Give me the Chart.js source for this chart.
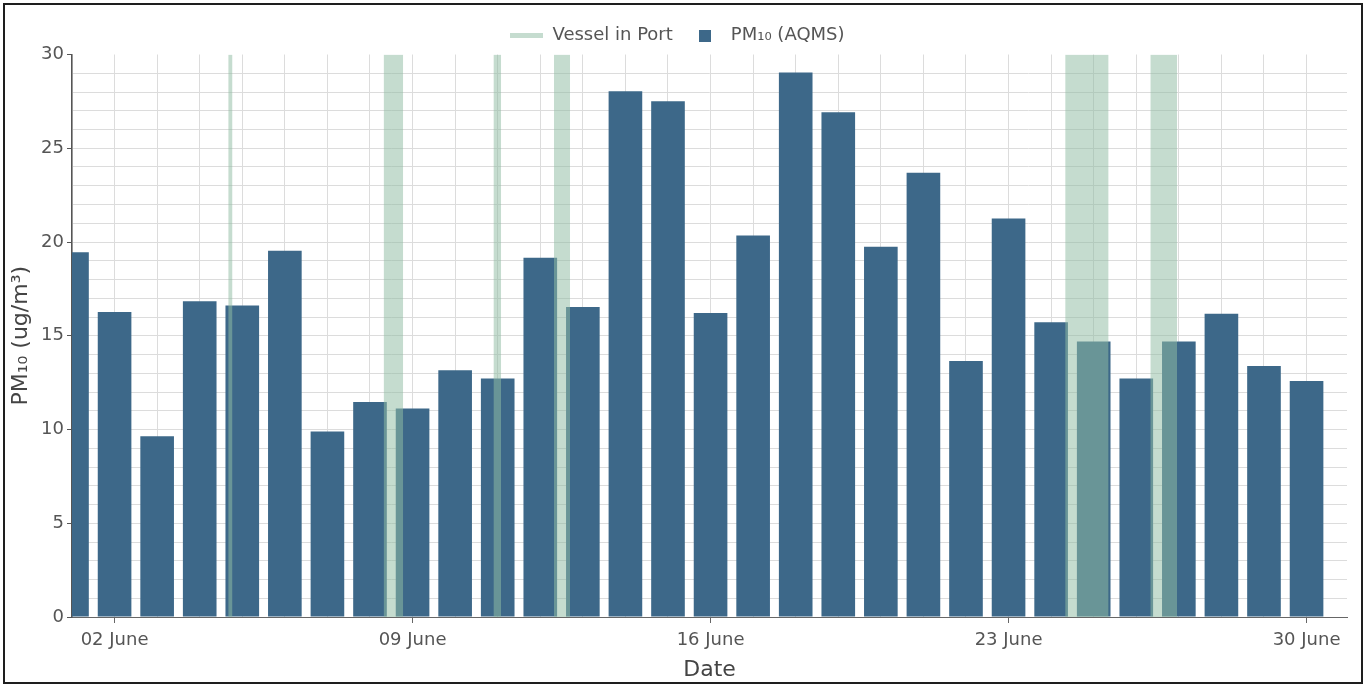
<!DOCTYPE html>
<html>
<head>
<meta charset="utf-8">
<script src="https://cdn.jsdelivr.net/npm/chart.js@4.4.1/dist/chart.umd.min.js"></script>
<style>
html,body{margin:0;padding:0;background:#fff;}
#box{position:absolute;left:3px;top:3px;width:1360px;height:681px;border:2px solid #1e1e1e;box-sizing:border-box;background:#fff;}
#box canvas{display:block;}
</style>
</head>
<body>
<div id="box"><canvas id="chart" width="1356" height="677"></canvas></div>
<script>
// day of June for each bar
let days=[1,2,3,4,5,6,7,8,9,10,11,12,13,14,15,16,17,18,19,20,21,22,23,24,25,26,27,28,29,30]
let pm10=[19.46,16.27,9.64,16.84,16.62,19.53,9.89,11.47,11.12,13.16,12.72,19.16,16.53,28.04,27.51,16.21,20.35,29.04,26.92,19.75,23.69,13.66,21.26,15.72,14.70,12.72,14.70,16.18,13.39,12.59]

// vessel in port periods (fractional days)
let vesselStart=[4.67,8.32,10.90,12.32,24.33,26.33]
let vesselEnd=[4.77,8.78,11.08,12.70,25.35,26.96]

let tickDays=[2,9,16,23,30]
let tickLabels=["02 June","09 June","16 June","23 June","30 June"]
let yMax=30

let barColor="#3d6889"
let vesselColor="rgba(145,188,164,0.53)"
let gridColor="#dcdcdc"
let font="DejaVu Sans"

Chart.defaults.font.family=font

let pmData=days.map((d,i)=>({x:d,y:pm10[i]}))

let vesselData=[]
for(let i=0;i<vesselStart.length;i++){
vesselData.push({x:vesselStart[i],y:yMax})
vesselData.push({x:vesselEnd[i],y:yMax})
vesselData.push({x:vesselEnd[i],y:null})
}

function icon(w,h,color){
let c=document.createElement("canvas")
c.width=w
c.height=h
let g=c.getContext("2d")
g.fillStyle=color
g.fillRect(0,0,w,h)
return c
}

let icons=[icon(33,5,vesselColor),icon(12,12,barColor)]

let ctx=document.getElementById("chart").getContext("2d")

let chart=new Chart(ctx,{
type:"bar",
data:{
datasets:[{
type:"line",
label:"Vessel in Port",
data:vesselData,
order:0,
fill:"origin",
backgroundColor:vesselColor,
borderColor:"rgba(0,0,0,0)",
borderWidth:0,
pointRadius:0,
pointHoverRadius:0,
spanGaps:false,
tension:0,
clip:0
},{
type:"bar",
label:"PM₁₀ (AQMS)",
data:pmData,
order:1,
backgroundColor:barColor,
borderWidth:0,
barPercentage:0.79,
categoryPercentage:1,
clip:0
}]
},
options:{
responsive:false,
animation:false,
events:[],
layout:{padding:{left:3,top:5.5,right:14,bottom:0}},
plugins:{
tooltip:{enabled:false},
legend:{
position:"top",
labels:{
usePointStyle:true,
pointStyleWidth:33,
padding:16,
color:"#555",
font:{size:18},
generateLabels:function(chart){
let items=Chart.defaults.plugins.legend.labels.generateLabels(chart)
items.forEach(it=>{it.pointStyle=icons[it.datasetIndex]})
return items
}
}
}
},
scales:{
x:{
type:"linear",
min:1,
max:30.95,
offset:false,
afterFit:s=>{s.height=65},
border:{display:true,color:"#666",width:1},
grid:{
offset:false,
color:gridColor,
tickLength:6,
tickColor:c=>(c.tick&&tickDays.includes(c.tick.value))?"#666":"rgba(0,0,0,0)"
},
ticks:{
stepSize:1,
autoSkip:false,
includeBounds:false,
maxRotation:0,
minRotation:0,
padding:7,
color:"#555",
font:{size:18},
callback:v=>{let k=tickDays.indexOf(v);return k<0?"":tickLabels[k]}
},
title:{display:true,text:"Date",color:"#444",font:{size:22},padding:{top:0,bottom:-1}}
},
y:{
min:0,
max:yMax,
afterFit:s=>{s.width=64},
border:{display:true,color:"#555",width:1.5},
grid:{
color:c=>(c.tick&&c.tick.value===yMax)?"rgba(0,0,0,0)":gridColor,
tickLength:5,
tickColor:c=>(c.tick&&c.tick.value%5===0)?"#555":"rgba(0,0,0,0)"
},
ticks:{
stepSize:1,
autoSkip:false,
padding:3,
color:"#555",
font:{size:18},
callback:v=>v%5===0?v:""
},
title:{display:true,text:"PM₁₀ (ug/m³)",color:"#444",font:{size:22},padding:{top:0,bottom:0}}
}
}
}
})
</script>
</body>
</html>
